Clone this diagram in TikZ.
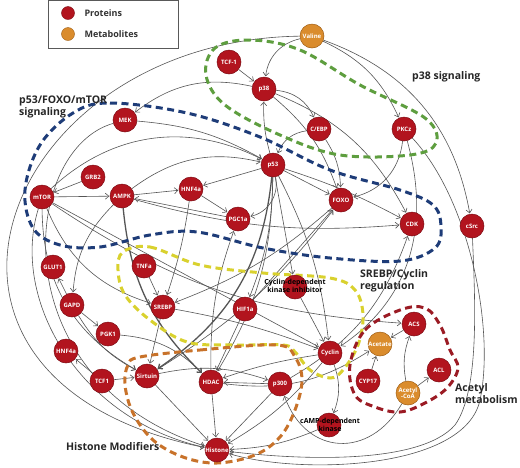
\documentclass[tikz,border=0pt]{standalone}
\usepackage{fontspec}
\setmainfont{Open Sans}
\usetikzlibrary{arrows.meta,backgrounds}
\definecolor{protred}{HTML}{B2141E}
\definecolor{protedge}{HTML}{7E0C14}
\definecolor{metaor}{HTML}{DA8C2D}
\definecolor{metaedge}{HTML}{A05E14}
\definecolor{edgegray}{HTML}{555555}
\definecolor{grpgreen}{HTML}{5E9E3F}
\definecolor{grpblue}{HTML}{1E3C78}
\definecolor{grpyellow}{HTML}{D9D12E}
\definecolor{grporange}{HTML}{C8722A}
\definecolor{grpred}{HTML}{9B1B24}
\begin{document}
\begin{tikzpicture}[x=1pt,y=1pt,
  prot/.style={circle,fill=protred,draw=protedge,line width=0.5pt,minimum size=24pt,inner sep=0pt,text=white,font=\fontsize{6}{7}\selectfont\bfseries},
  meta/.style={prot,fill=metaor,draw=metaedge},
  darklab/.style={font=\fontsize{7}{7.6}\selectfont\bfseries,text=black,align=center,inner sep=0pt},
  e/.style={draw=edgegray,line width=0.6pt,-{Straight Barb[length=3.5pt,width=6pt]},shorten >=0.5pt},
  ethick/.style={e,line width=1.3pt},
  grp/.style={line width=3pt,dash pattern=on 7pt off 4.5pt},
  glab/.style={font=\fontsize{10.5}{12}\selectfont\bfseries,text=black!85,align=left,inner sep=0pt,anchor=west}]
\useasboundingbox (0,0) rectangle (520,-467);
% legend
\draw[gray!70!black,line width=0.5pt] (48.5,-0.3) rectangle (178,-48);
\node[circle,fill=protred,draw=protedge,minimum size=13pt,inner sep=0pt] (legp) at (68,-13) {};
\node[circle,fill=metaor,draw=metaedge,minimum size=13pt,inner sep=0pt] (legm) at (68,-34) {};
\node[anchor=west,font=\fontsize{9}{10}\selectfont\bfseries,text=black!80] (legpt) at (81,-13) {Proteins};
\node[anchor=west,font=\fontsize{9}{10}\selectfont\bfseries,text=black!80] (legmt) at (81,-34) {Metabolites};
% nodes
\node[meta] (Valine) at (312,-36) {Valine};
\node[prot] (TCFa) at (229,-62) {TCF-1};
\node[prot] (p38) at (264,-89) {p38};
\node[prot] (CEBP) at (319,-129) {C/EBP};
\node[prot] (PKCz) at (404,-129) {PKCz};
\node[prot] (MEK) at (125,-120) {MEK};
\node[prot] (p53) at (273,-165) {p53};
\node[prot] (FOXO) at (341,-200) {FOXO};
\node[prot] (CDK) at (412,-224) {CDK};
\node[prot] (cSrc) at (472,-226) {cSrc};
\node[prot] (GRB2) at (93,-177) {GRB2};
\node[prot] (mTOR) at (42,-197) {mTOR};
\node[prot] (AMPK) at (122,-196) {AMPK};
\node[prot] (hnfa) at (191,-189) {HNF4a};
\node[prot] (PGC) at (238,-219) {PGC1a};
\node[prot] (GLUT) at (53,-267) {GLUT1};
\node[prot] (GAPD) at (72,-305) {GAPD};
\node[prot] (PGK) at (108,-334) {PGK1};
\node[prot] (TNFa) at (144,-266) {TNFa};
\node[prot] (SREBP) at (163,-307) {SREBP};
\node[prot] (HIF) at (245,-309) {HIF1a};
\node[prot] (CDKI) at (295,-287) {};
\node[darklab] (CDKIl) at (295,-286) {Cyclin-dependent\\kinase inhibitor};
\node[prot] (Cyclin) at (330,-353) {Cyclin};
\node[prot] (hnfb) at (66,-351) {HNF4a};
\node[prot] (TCFb) at (102,-381) {TCF1};
\node[prot] (Sirt) at (147,-376) {Sirtuin};
\node[prot] (HDAC) at (211,-382) {HDAC};
\node[prot] (p300) at (280,-384) {p300};
\node[prot] (Histone) at (217,-450) {Histone};
\node[prot] (cAMP) at (329,-425) {};
\node[darklab] (cAMPl) at (330,-425) {cAMP-dependent\\kinase};
\node[prot] (ACS) at (414,-324) {ACS};
\node[meta] (Acetate) at (380,-344) {Acetate};
\node[prot] (CYP) at (368,-381) {CYP17};
\node[prot] (ACL) at (439,-370) {ACL};
\node[meta,align=center,font=\fontsize{6}{6.5}\selectfont\bfseries] (AcCoA) at (408,-393) {Acetyl\\-CoA};
% group labels
\node[glab] (l1) at (412,-77) {p38 signaling};
\node[glab] (l2) at (19,-107) {p53/FOXO/mTOR\\signaling};
\node[glab] (l3) at (360,-281) {SREBP/Cyclin\\regulation};
\node[glab] (l4) at (455,-394) {Acetyl\\metabolism};
\node[glab] (l5) at (66,-447) {Histone Modifiers};
\begin{scope}[on background layer]
\fill[white] (0,0) rectangle (520,-467);
% edges
\draw[e] (Valine) to[bend right=35] (p38);
\draw[e] (TCFa) -- (p38);
\draw[e] (Valine) to[bend left=20] (PKCz);
\draw[e] (Valine) to[bend left=30] (cSrc);
\draw[e] (p38) to[bend right=25] (MEK);
\draw[e] (p38) to[bend left=30] (CEBP);
\draw[e] (p38) to[bend left=15] (FOXO);
\draw[e] (p38) to[bend left=20] (CDK);
\draw[e] (p53) to[bend left=8] (p38);
\draw[e] (CEBP) to[bend right=30] (p53);
\draw[e] (CEBP) to[bend left=15] (FOXO);
\draw[e] (PKCz) to[bend left=35] (FOXO);
\draw[e] (Valine) .. controls (0,-40) and (-130,-380) .. (Histone);
\draw[e] (MEK) .. controls (20,-150) and (0,-380) .. (Histone);
\draw[e] (mTOR) .. controls (10,-300) and (80,-420) .. (Histone);
\draw[e] (mTOR) to[bend right=30] (Sirt);
\draw[e] (MEK) to[bend left=12] (p53);
\draw[e] (mTOR) to[bend left=35] (p53);
\draw[e] (AMPK) to[bend left=25] (p53);
\draw[e] (p53) -- (hnfa);
\draw[e] (p53) to[bend left=45] (PGC);
\draw[e] (p53) -- (FOXO);
\draw[e] (p53) to[bend left=5] (CDK);
\draw[e] (AMPK) -- (hnfa);
\draw[e] (hnfa) -- (PGC);
\draw[e] (PGC) -- (AMPK);
\draw[e] (mTOR) -- (AMPK);
\draw[e] (GRB2) -- (mTOR);
\draw[e] (hnfa) to[bend left=5] (SREBP);
\draw[e] (AMPK) to[bend right=20] (GAPD);
\draw[e] (mTOR) to[bend right=25] (SREBP);
\draw[e] (GAPD) -- (GLUT);
\draw[e] (GAPD) -- (PGK);
\draw[e] (GAPD) to[bend right=15] (Sirt);
\draw[e] (TCFb) -- (hnfb);
\draw[e] (TCFb) -- (Sirt);
\draw[e] (TNFa) -- (SREBP);
\draw[e] (SREBP) -- (Sirt);
\draw[e] (PGK) to[bend left=20] (HDAC);
\draw[e] (HIF) -- (HDAC);
\draw[e] (Sirt) -- (Histone);
\draw[e] (HDAC) -- (Histone);
\draw[e] (p300) -- (Histone);
\draw[e] (p300) -- (HDAC);
\draw[e] (Cyclin) to[bend right=5] (HDAC);
\draw[e] (CDKI) -- (Cyclin);
\draw[e] (Cyclin) to[bend left=20] (cAMP);
\draw[e] (Cyclin) to[bend left=10] (Histone);
\draw[e] (cAMP) to[bend left=10] (Histone);
\draw[e] (AcCoA) to[bend left=15] (ACS);
\draw[e] (AcCoA) -- (ACL);
\draw[e] (ACS) -- (Acetate);
\draw[e] (CYP) -- (Acetate);
\draw[e] (HDAC) to[bend right=20] (Acetate);
\draw[e] (AcCoA) to[out=-120,in=-70,looseness=1.4] (p300);
\draw[e] (SREBP) to[bend left=5] (Cyclin);
\draw[e] (mTOR) to[bend right=15] (ACS);
\draw[e] (mTOR) -- (Cyclin);
\draw[ethick] (AMPK) to[bend right=20] (HDAC);
\draw[ethick] (p53) to[bend left=25] (Sirt);
\draw[e] (p53) to[bend left=15] (HDAC);
\draw[e] (p53) to[bend left=10] (Cyclin);
\draw[e] (p53) -- (CDKI);
\draw[e] (p53) to[bend left=10] (HIF);
\draw[e] (FOXO) to[bend left=10] (SREBP);
\draw[e] (Sirt) to[bend right=10] (FOXO);
\draw[e] (HIF) -- (FOXO);
\draw[e] (AMPK) to[bend right=10] (CDK);
\draw[e] (p300) to[bend right=20] (CDK);
\draw[e] (Sirt) to[bend left=15] (p300);
\draw[e] (HDAC) to[bend left=10] (PGC);
\draw[e] (PKCz) .. controls (440,-260) and (380,-320) .. (Cyclin);
\draw[e] (PKCz) .. controls (470,-200) and (495,-330) .. (480,-400) .. controls (465,-470) and (300,-475) .. (Histone);
\draw[e] (cSrc) .. controls (475,-300) and (480,-390) .. (455,-425) .. controls (420,-465) and (300,-460) .. (Histone);
% group outlines
\draw[grp,grpgreen] plot[smooth cycle,tension=0.6] coordinates {(250,-40) (300,-50) (360,-85) (425,-118) (436,-143) (410,-155) (340,-155) (280,-135) (225,-105) (206,-75) (215,-48)};
\draw[grp,grpblue] plot[smooth cycle,tension=0.6] coordinates {(73,-113) (110,-103) (187,-113) (260,-137) (330,-170) (400,-190) (433,-205) (441,-226) (435,-248) (400,-261) (330,-258) (263,-248) (197,-232) (150,-235) (100,-247) (60,-245) (33,-228) (25,-190) (40,-145)};
\draw[grp,grpyellow] plot[smooth cycle,tension=0.6] coordinates {(123,-252) (150,-247) (200,-265) (263,-273) (330,-278) (355,-290) (363,-315) (358,-345) (343,-370) (330,-378) (310,-370) (295,-352) (283,-345) (233,-345) (187,-342) (150,-320) (125,-295) (118,-270)};
\draw[grp,grporange] plot[smooth cycle,tension=0.6] coordinates {(140,-357) (200,-350) (277,-345) (295,-357) (302,-380) (295,-410) (280,-437) (255,-455) (217,-463) (183,-457) (153,-440) (133,-413) (125,-385) (128,-365)};
\draw[grp,grpred] plot[smooth cycle,tension=0.6] coordinates {(350,-365) (365,-330) (400,-310) (425,-308) (440,-325) (450,-350) (458,-368) (447,-388) (425,-403) (400,-412) (375,-407) (355,-395)};
\end{scope}
\end{tikzpicture}
\end{document}
